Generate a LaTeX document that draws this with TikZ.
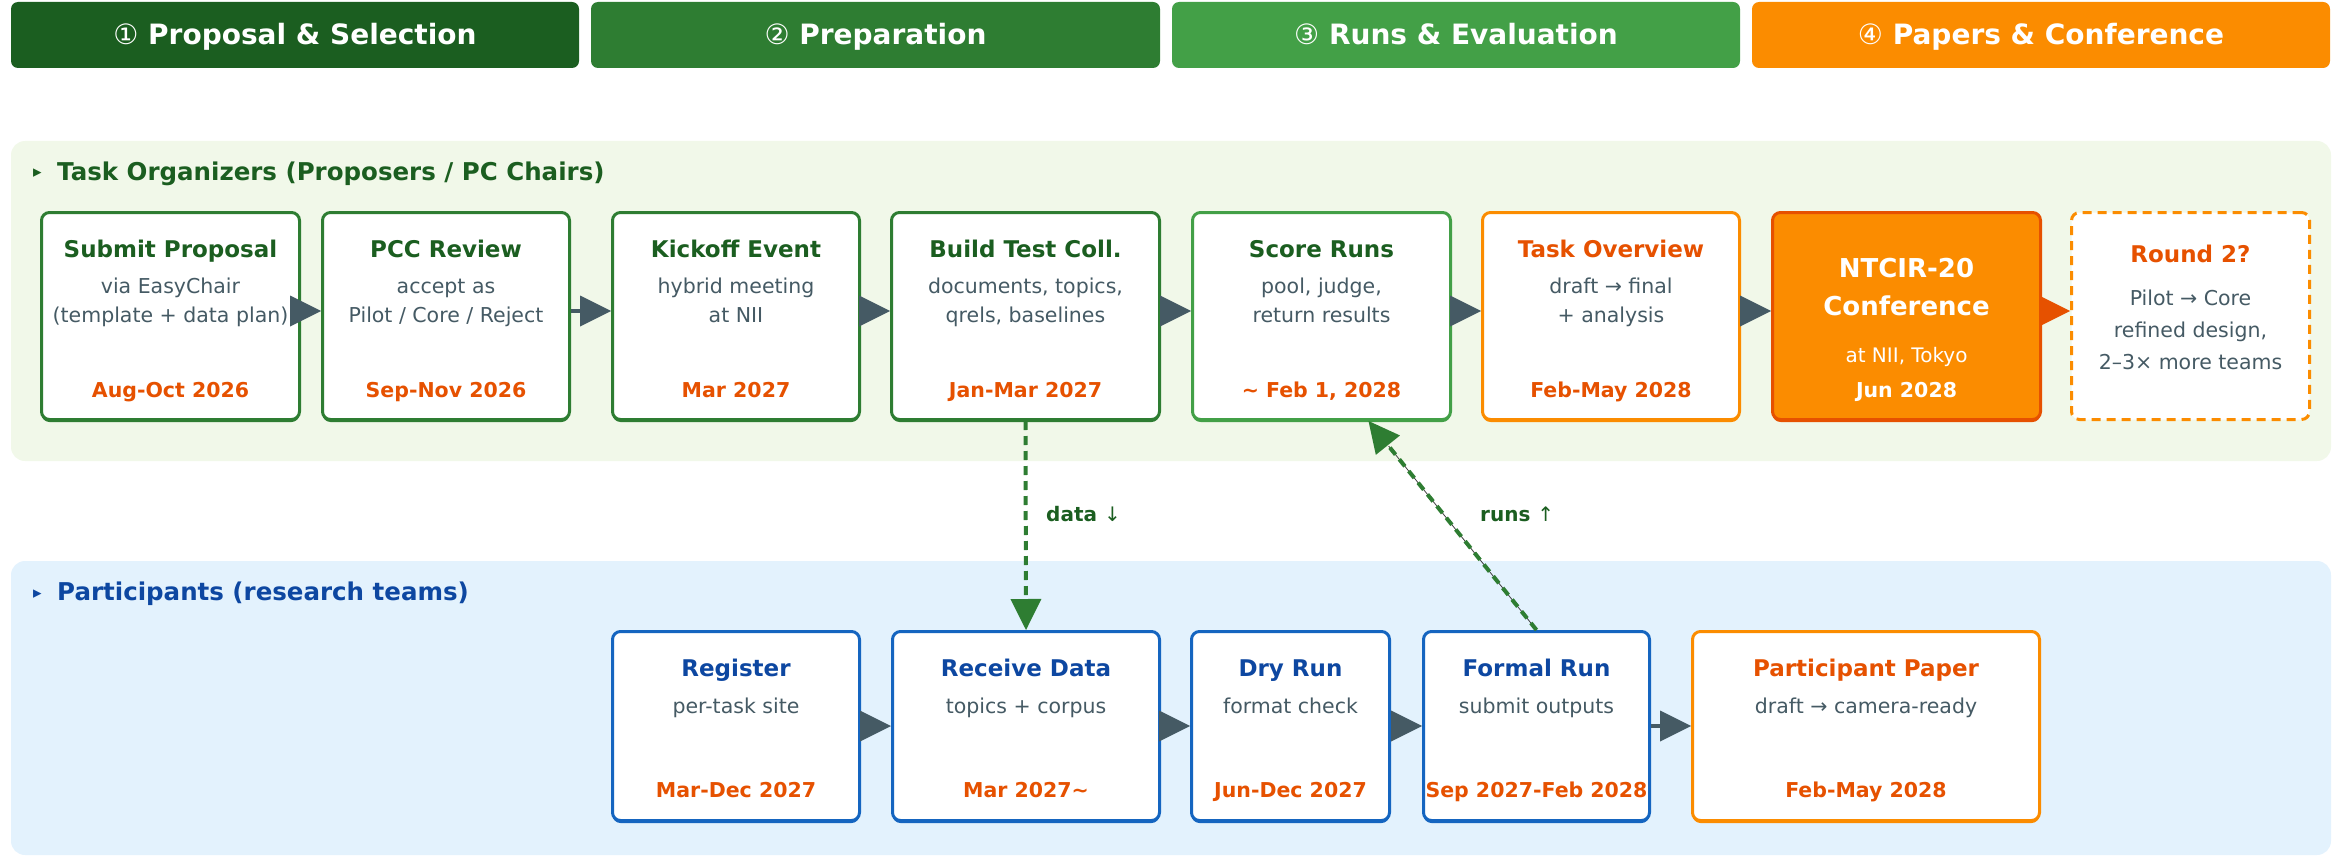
\documentclass[tikz,border=0pt]{standalone}
\usepackage{fontspec}
\setmainfont{DejaVu Sans}
\usetikzlibrary{arrows.meta,calc,shadows}
\definecolor{gA}{HTML}{1B5E20}
\definecolor{gB}{HTML}{2E7D32}
\definecolor{gC}{HTML}{43A047}
\definecolor{orA}{HTML}{FB8C00}
\definecolor{orB}{HTML}{E65100}
\definecolor{slate}{HTML}{455A64}
\definecolor{bgG}{HTML}{F1F8E9}
\definecolor{bgB}{HTML}{E3F2FD}
\definecolor{blA}{HTML}{0D47A1}
\definecolor{blB}{HTML}{1565C0}
\begin{document}
\begin{tikzpicture}[x=1pt,y=-1pt,
  hdr/.style={fill=#1, draw=none, rounded corners=7pt, inner sep=0pt},
  hdrtxt/.style={text=white, font=\fontsize{28}{32}\selectfont\bfseries, anchor=base, inner sep=0pt},
  lanettl/.style={font=\fontsize{24.5}{28}\selectfont\bfseries, anchor=base west, inner sep=0pt},
  lanemark/.style={font=\fontsize{17}{20}\selectfont, anchor=base west, inner sep=0pt},
  box/.style={draw=#1, line width=3pt, fill=white, rounded corners=8pt, inner sep=0pt,
     general shadow={fill=#1, shadow yshift=-2.5pt}},
  hotbox/.style={draw=orB, line width=3pt, fill=orA, rounded corners=8pt, inner sep=0pt,
     general shadow={fill=orB, shadow yshift=-2.5pt}},
  dashbox/.style={draw=orA, line width=3pt, fill=white, rounded corners=8pt, inner sep=0pt,
     dash pattern=on 9pt off 6pt},
  ttl/.style={font=\fontsize{23}{27}\selectfont\bfseries, text=gA, anchor=base, inner sep=0pt},
  sub/.style={font=\fontsize{20.5}{24}\selectfont, text=slate, anchor=base, inner sep=0pt},
  dt/.style={font=\fontsize{20.5}{24}\selectfont\bfseries, text=orB, anchor=base, inner sep=0pt},
  lbl/.style={font=\fontsize{20}{24}\selectfont\bfseries, text=gA, anchor=base west, inner sep=0pt},
  flow/.style={draw=#1, line width=4pt, -{Triangle[length=31pt,width=31pt,line width=0pt]}},
  dflow/.style={draw=gB, line width=4pt, dash pattern=on 9pt off 6pt, -{Triangle[length=31pt,width=31pt,line width=0pt]}}
]
\useasboundingbox (0,0) rectangle (2346,856);

% phase headers
\node[hdr=gA, minimum width=568pt, minimum height=66pt] (h1) at (295,35) {};
\node[hdr=gB, minimum width=569pt, minimum height=66pt] (h2) at (875.5,35) {};
\node[hdr=gC, minimum width=568pt, minimum height=66pt] (h3) at (1456,35) {};
\node[hdr=orA, minimum width=578pt, minimum height=66pt] (h4) at (2041,35) {};
\node[hdrtxt] (h1t) at (295,45) {{\mdseries ①} Proposal \& Selection};
\node[hdrtxt] (h2t) at (875.5,45) {{\mdseries ②} Preparation};
\node[hdrtxt] (h3t) at (1456,45) {{\mdseries ③} Runs \& Evaluation};
\node[hdrtxt] (h4t) at (2041,45) {{\mdseries ④} Papers \& Conference};

% lanes
\fill[bgG, rounded corners=14pt] (11,141) rectangle (2331,461);
\fill[bgB, rounded corners=14pt] (11,561) rectangle (2331,855);
\node[lanemark, text=gA] (l1m) at (33,178) {▸};
\node[lanettl, text=gA] (l1) at (57,180) {Task Organizers (Proposers / PC Chairs)};
\node[lanemark, text=blA] (l2m) at (33,598) {▸};
\node[lanettl, text=blA] (l2) at (57,600) {Participants (research teams)};

% top row boxes
\node[box=gB, minimum width=258pt, minimum height=207pt] (sp) at (170.5,316) {};
\node[box=gB, minimum width=247pt, minimum height=207pt] (pcc) at (446,316) {};
\node[box=gB, minimum width=247pt, minimum height=207pt] (ko) at (736,316) {};
\node[box=gB, minimum width=268pt, minimum height=207pt] (bt) at (1025.5,316) {};
\node[box=gC, minimum width=258pt, minimum height=207pt] (sc) at (1321.5,316) {};
\node[box=orA, minimum width=257pt, minimum height=207pt] (to) at (1611,316) {};
\node[hotbox, minimum width=268pt, minimum height=207pt] (nt) at (1906.5,316) {};
\node[dashbox, minimum width=238pt, minimum height=207pt] (r2) at (2190.5,316) {};

% bottom row boxes
\node[box=blB, minimum width=247pt, minimum height=189pt] (rg) at (736,726) {};
\node[box=blB, minimum width=267pt, minimum height=189pt] (rd) at (1026,726) {};
\node[box=blB, minimum width=198pt, minimum height=189pt] (dr) at (1290.5,726) {};
\node[box=blB, minimum width=226pt, minimum height=189pt] (fr) at (1536.5,726) {};
\node[box=orA, minimum width=347pt, minimum height=189pt] (pp) at (1866,726) {};

% top row texts
\node[ttl] (spT) at (170.5,257) {Submit Proposal};
\node[sub] (spA) at (170.5,293) {via EasyChair};
\node[sub] (spB) at (170.5,322) {(template + data plan)};
\node[dt]  (spD) at (170.5,397) {Aug-Oct 2026};

\node[ttl] (pccT) at (446,257) {PCC Review};
\node[sub] (pccA) at (446,293) {accept as};
\node[sub] (pccB) at (446,322) {Pilot / Core / Reject};
\node[dt]  (pccD) at (446,397) {Sep-Nov 2026};

\node[ttl] (koT) at (736,257) {Kickoff Event};
\node[sub] (koA) at (736,293) {hybrid meeting};
\node[sub] (koB) at (736,322) {at NII};
\node[dt]  (koD) at (736,397) {Mar 2027};

\node[ttl] (btT) at (1025.5,257) {Build Test Coll.};
\node[sub] (btA) at (1025.5,293) {documents, topics,};
\node[sub] (btB) at (1025.5,322) {qrels, baselines};
\node[dt]  (btD) at (1025.5,397) {Jan-Mar 2027};

\node[ttl] (scT) at (1321.5,257) {Score Runs};
\node[sub] (scA) at (1321.5,293) {pool, judge,};
\node[sub] (scB) at (1321.5,322) {return results};
\node[dt]  (scD) at (1321.5,397) {\textasciitilde{} Feb 1, 2028};

\node[ttl, text=orB] (toT) at (1611,257) {Task Overview};
\node[sub] (toA) at (1611,293) {draft → final};
\node[sub] (toB) at (1611,322) {+ analysis};
\node[dt]  (toD) at (1611,397) {Feb-May 2028};

\node[ttl, text=white, font=\fontsize{26}{30}\selectfont\bfseries] (ntT) at (1906.5,277) {NTCIR-20};
\node[ttl, text=white, font=\fontsize{26}{30}\selectfont\bfseries] (ntU) at (1906.5,315) {Conference};
\node[sub, text=white, font=\fontsize{20}{24}\selectfont] (ntA) at (1906.5,362) {at NII, Tokyo};
\node[dt, text=white] (ntD) at (1906.5,397) {Jun 2028};

\node[ttl, text=orB] (r2T) at (2190.5,262) {Round 2?};
\node[sub] (r2A) at (2190.5,305) {Pilot → Core};
\node[sub] (r2B) at (2190.5,337) {refined design,};
\node[sub] (r2C) at (2190.5,369) {2–3× more teams};

% bottom row texts
\node[ttl, text=blA] (rgT) at (736,676) {Register};
\node[sub] (rgA) at (736,713) {per-task site};
\node[dt]  (rgD) at (736,797) {Mar-Dec 2027};

\node[ttl, text=blA] (rdT) at (1026,676) {Receive Data};
\node[sub] (rdA) at (1026,713) {topics + corpus};
\node[dt]  (rdD) at (1026,797) {Mar 2027\textasciitilde};

\node[ttl, text=blA] (drT) at (1290.5,676) {Dry Run};
\node[sub] (drA) at (1290.5,713) {format check};
\node[dt]  (drD) at (1290.5,797) {Jun-Dec 2027};

\node[ttl, text=blA] (frT) at (1536.5,676) {Formal Run};
\node[sub] (frA) at (1536.5,713) {submit outputs};
\node[dt]  (frD) at (1536.5,797) {Sep 2027-Feb 2028};

\node[ttl, text=orB] (ppT) at (1866,676) {Participant Paper};
\node[sub] (ppA) at (1866,713) {draft → camera-ready};
\node[dt]  (ppD) at (1866,797) {Feb-May 2028};

% flow arrows top
\draw[flow=slate] ([yshift=5pt]sp.east) -- ([yshift=5pt]pcc.west);
\draw[flow=slate] ([yshift=5pt]pcc.east) -- ([yshift=5pt]ko.west);
\draw[flow=slate] ([yshift=5pt]ko.east) -- ([yshift=5pt]bt.west);
\draw[flow=slate] ([yshift=5pt]bt.east) -- ([yshift=5pt]sc.west);
\draw[flow=slate] ([yshift=5pt]sc.east) -- ([yshift=5pt]to.west);
\draw[flow=slate] ([yshift=5pt]to.east) -- ([yshift=5pt]nt.west);
\draw[flow=orB] ([yshift=5pt]nt.east) -- ([yshift=5pt]r2.west);

% flow arrows bottom
\draw[flow=slate] (rg.east) -- (rd.west);
\draw[flow=slate] (rd.east) -- (dr.west);
\draw[flow=slate] (dr.east) -- (fr.west);
\draw[flow=slate] (fr.east) -- (pp.west);

% cross-lane arrows
\draw[dflow] (bt.south) -- (rd.north);
\coordinate (scIn) at ($(sc.south east)!0.32!(sc.south west)$);
\draw[line width=0.8pt, black!75] (fr.north) -- ($(fr.north)!0.88!(scIn)$);
\draw[dflow] (fr.north) -- (scIn);
\node[lbl] (dl) at (1046,521) {data {\mdseries ↓}};
\node[lbl] (rl) at (1480,521) {runs {\mdseries ↑}};
\end{tikzpicture}
\end{document}
